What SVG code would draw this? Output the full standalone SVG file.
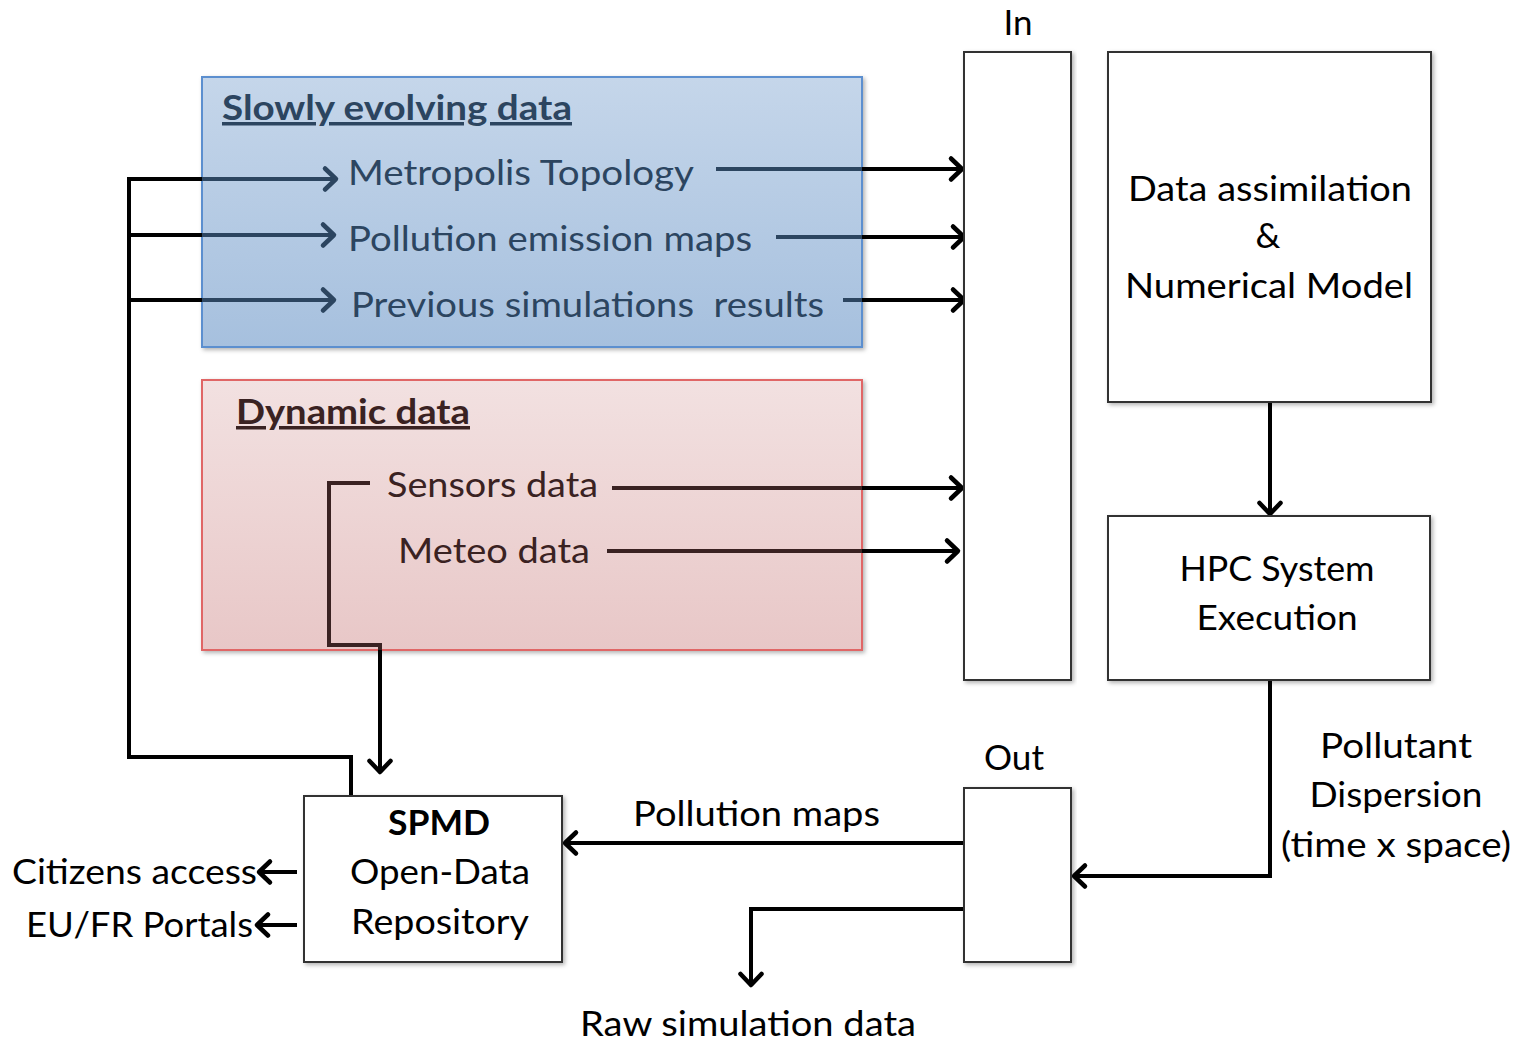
<svg xmlns="http://www.w3.org/2000/svg" width="1517" height="1041" viewBox="0 0 1517 1041">
  <style>
    text { font-family: Lato, "Open Sans", "Liberation Sans", sans-serif; font-size: 35px; fill: #000; }
    .blue-t { fill: #2c4560; }
    .red-t { fill: #3a2222; }
    .title { font-weight: bold; text-decoration: underline; }
    .bold { font-weight: bold; }
    .mid { text-anchor: middle; }
    .box { fill: #fff; stroke: #333; stroke-width: 2; }
    .wire { fill: none; stroke: #000; stroke-width: 4; }
    .wire-blue { fill: none; stroke: #2c4560; stroke-width: 4; }
    .wire-red { fill: none; stroke: #3a2222; stroke-width: 4; }
  </style>
  <defs>
    <marker id="arrow" markerUnits="userSpaceOnUse" markerWidth="28" markerHeight="28" refX="22" refY="14" orient="auto" viewBox="0 0 28 28">
      <polyline points="11,3.5 22,14 11,24.5" fill="none" stroke="#000" stroke-width="4.5" stroke-linecap="round" stroke-linejoin="round"/>
    </marker>
    <marker id="arrow-blue" markerUnits="userSpaceOnUse" markerWidth="28" markerHeight="28" refX="22" refY="14" orient="auto" viewBox="0 0 28 28">
      <polyline points="11,3.5 22,14 11,24.5" fill="none" stroke="#2c4560" stroke-width="4.5" stroke-linecap="round" stroke-linejoin="round"/>
    </marker>
    <linearGradient id="blueFill" x1="0" y1="0" x2="0" y2="1">
      <stop offset="0" stop-color="#c5d6ea"/>
      <stop offset="1" stop-color="#a6c0de"/>
    </linearGradient>
    <linearGradient id="redFill" x1="0" y1="0" x2="0" y2="1">
      <stop offset="0" stop-color="#f2e1e1"/>
      <stop offset="1" stop-color="#e8c7c7"/>
    </linearGradient>
    <filter id="shadow" x="-5%" y="-5%" width="110%" height="110%">
      <feDropShadow dx="2" dy="2" stdDeviation="2" flood-color="#000" flood-opacity="0.3"/>
    </filter>
  </defs>

  <rect width="1517" height="1041" fill="#fff"/>

  <!-- slowly evolving data panel -->
  <g id="slow-data">
    <rect x="202" y="77" width="660" height="270" fill="url(#blueFill)" stroke="#5b8fcf" stroke-width="2" filter="url(#shadow)"/>
    <text class="blue-t title" x="222" y="120" font-size="34" textLength="350" lengthAdjust="spacingAndGlyphs">Slowly evolving data</text>
    <text class="blue-t" x="348" y="185" textLength="346" lengthAdjust="spacingAndGlyphs">Metropolis Topology</text>
    <text class="blue-t" x="348" y="251" textLength="404" lengthAdjust="spacingAndGlyphs">Pollution emission maps</text>
    <text class="blue-t" x="351" y="317" textLength="473" lengthAdjust="spacingAndGlyphs" xml:space="preserve">Previous simulations  results</text>
  </g>

  <!-- dynamic data panel -->
  <g id="dynamic-data">
    <rect x="202" y="380" width="660" height="270" fill="url(#redFill)" stroke="#e06666" stroke-width="2" filter="url(#shadow)"/>
    <text class="red-t title" x="236" y="424" font-size="34" textLength="234" lengthAdjust="spacingAndGlyphs">Dynamic data</text>
    <text class="red-t" x="387" y="497" textLength="211" lengthAdjust="spacingAndGlyphs">Sensors data</text>
    <text class="red-t" x="398" y="563" textLength="192" lengthAdjust="spacingAndGlyphs">Meteo data</text>
  </g>

  <!-- connectors (segments running over a panel take the panel's ink colour) -->
  <g id="connectors">
    <!-- feedback bus from the repository back to the slow data sources -->
    <polyline class="wire" points="351,796 351,757 129,757 129,179 202,179"/>
    <line class="wire" x1="129" y1="235" x2="202" y2="235"/>
    <line class="wire" x1="129" y1="300" x2="202" y2="300"/>
    <line class="wire-blue" x1="202" y1="179" x2="336" y2="179" marker-end="url(#arrow-blue)"/>
    <line class="wire-blue" x1="202" y1="235" x2="334" y2="235" marker-end="url(#arrow-blue)"/>
    <line class="wire-blue" x1="202" y1="300" x2="334" y2="300" marker-end="url(#arrow-blue)"/>
    <!-- slow data into the In buffer -->
    <line class="wire-blue" x1="716" y1="169" x2="862" y2="169"/>
    <line class="wire-blue" x1="776" y1="237" x2="862" y2="237"/>
    <line class="wire-blue" x1="843" y1="300" x2="862" y2="300"/>
    <line class="wire" x1="862" y1="169" x2="962" y2="169" marker-end="url(#arrow)"/>
    <line class="wire" x1="862" y1="237" x2="964" y2="237" marker-end="url(#arrow)"/>
    <line class="wire" x1="862" y1="300" x2="964" y2="300" marker-end="url(#arrow)"/>
    <!-- dynamic data into the In buffer -->
    <line class="wire-red" x1="612" y1="488" x2="862" y2="488"/>
    <line class="wire-red" x1="607" y1="551" x2="862" y2="551"/>
    <line class="wire" x1="862" y1="488" x2="962" y2="488" marker-end="url(#arrow)"/>
    <line class="wire" x1="862" y1="551" x2="958" y2="551" marker-end="url(#arrow)"/>
    <!-- sensors data archived in the repository -->
    <polyline class="wire-red" points="370,483 329,483 329,645 380,645 380,650"/>
    <line class="wire" x1="380" y1="650" x2="380" y2="772" marker-end="url(#arrow)"/>
    <!-- model to HPC -->
    <line class="wire" x1="1270" y1="402" x2="1270" y2="514" marker-end="url(#arrow)"/>
    <!-- HPC results to Out buffer -->
    <polyline class="wire" points="1270,680 1270,876 1074,876" marker-end="url(#arrow)"/>
    <!-- Out buffer to repository -->
    <line class="wire" x1="964" y1="843" x2="565" y2="843" marker-end="url(#arrow)"/>
    <!-- raw data output -->
    <polyline class="wire" points="964,909 751,909 751,985" marker-end="url(#arrow)"/>
    <!-- repository publication -->
    <line class="wire" x1="297" y1="872" x2="259" y2="872" marker-end="url(#arrow)"/>
    <line class="wire" x1="297" y1="925" x2="257" y2="925" marker-end="url(#arrow)"/>
  </g>

  <!-- input buffer -->
  <g id="in-buffer">
    <rect class="box" x="964" y="52" width="107" height="628" filter="url(#shadow)"/>
    <text class="mid" x="1018" y="35">In</text>
  </g>

  <!-- model -->
  <g id="model">
    <rect class="box" x="1108" y="52" width="323" height="350" filter="url(#shadow)"/>
    <text class="mid" x="1270" y="201" textLength="284" lengthAdjust="spacingAndGlyphs">Data assimilation</text>
    <text class="mid" x="1268" y="248">&amp;</text>
    <text class="mid" x="1269" y="298" textLength="288" lengthAdjust="spacingAndGlyphs">Numerical Model</text>
  </g>

  <!-- HPC execution -->
  <g id="hpc">
    <rect class="box" x="1108" y="516" width="322" height="164" filter="url(#shadow)"/>
    <text class="mid" x="1277" y="581" textLength="195" lengthAdjust="spacingAndGlyphs">HPC System</text>
    <text class="mid" x="1277" y="630" textLength="161" lengthAdjust="spacingAndGlyphs">Execution</text>
  </g>

  <!-- output label -->
  <g id="dispersion-label">
    <text class="mid" x="1396" y="758" textLength="152" lengthAdjust="spacingAndGlyphs">Pollutant</text>
    <text class="mid" x="1396" y="807" textLength="173" lengthAdjust="spacingAndGlyphs">Dispersion</text>
    <text class="mid" x="1396" y="857" textLength="230" lengthAdjust="spacingAndGlyphs">(time x space)</text>
  </g>

  <!-- output buffer -->
  <g id="out-buffer">
    <rect class="box" x="964" y="788" width="107" height="174" filter="url(#shadow)"/>
    <text class="mid" x="1014" y="770" textLength="60" lengthAdjust="spacingAndGlyphs">Out</text>
  </g>

  <!-- repository -->
  <g id="spmd">
    <rect class="box" x="304" y="796" width="258" height="166" filter="url(#shadow)"/>
    <text class="mid bold" x="439" y="835" textLength="102" lengthAdjust="spacingAndGlyphs">SPMD</text>
    <text class="mid" x="440" y="884" textLength="180" lengthAdjust="spacingAndGlyphs">Open-Data</text>
    <text class="mid" x="440" y="934" textLength="178" lengthAdjust="spacingAndGlyphs">Repository</text>
  </g>

  <!-- free labels -->
  <g id="labels">
    <text x="633" y="826" textLength="247" lengthAdjust="spacingAndGlyphs">Pollution maps</text>
    <text x="12" y="884" textLength="245" lengthAdjust="spacingAndGlyphs">Citizens access</text>
    <text x="26" y="937" textLength="227" lengthAdjust="spacingAndGlyphs">EU/FR Portals</text>
    <text x="580" y="1036" textLength="336" lengthAdjust="spacingAndGlyphs">Raw simulation data</text>
  </g>
</svg>
